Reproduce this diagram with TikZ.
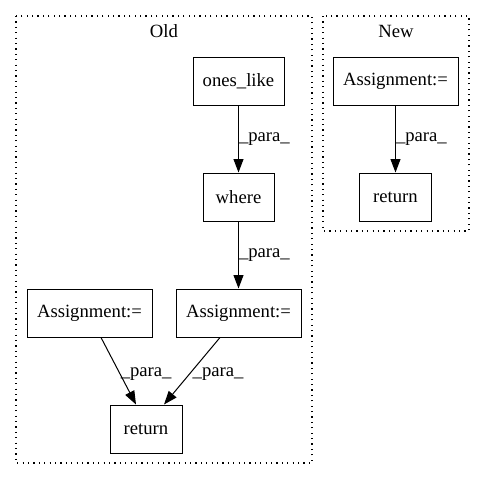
\documentclass[tikz,border=0pt]{standalone}
\usepackage{fontspec}
\setmainfont{Liberation Serif}
\usetikzlibrary{arrows.meta}
\begin{document}
\begin{tikzpicture}[x=1pt,y=-1pt,
  box/.style={draw,line width=1pt,minimum height=48pt,inner sep=0pt,font=\fontsize{18.67}{20}\selectfont},
  cluster/.style={draw,line width=1.2pt,dash pattern=on 1.2pt off 4.2pt},
  edge/.style={line width=1pt,-{Triangle[length=13.5pt,width=10pt]}},
  lbl/.style={font=\fontsize{18.67}{20}\selectfont,inner sep=0pt},
  title/.style={font=\fontsize{18.67}{20}\selectfont,inner sep=0pt}]
\useasboundingbox (0,0) rectangle (485,480);
% clusters
\draw[cluster] (16,16) rectangle (312,463);
\draw[cluster] (323,16) rectangle (469,231);
\node[title] (told) at (164,31) {Old};
\node[title] (tnew) at (396,31) {New};
% Old nodes
\node[box,minimum width=91pt] (ones) at (238.5,81) {ones\_like};
\node[box,minimum width=71pt] (where) at (238.5,197) {where};
\node[box,minimum width=125pt] (asr) at (238.5,313) {Assignment:=};
\node[box,minimum width=125pt] (asl) at (89.5,313) {Assignment:=};
\node[box,minimum width=72pt] (ret) at (146,429) {return};
% New nodes
\node[box,minimum width=125pt] (nas) at (395.5,81) {Assignment:=};
\node[box,minimum width=72pt] (nret) at (395.5,197) {return};
% edges
\draw[edge] (ones) -- (where) node[lbl,midway,right=0pt] {\_para\_};
\draw[edge] (where) -- (asr) node[lbl,midway,right=0pt] {\_para\_};
\draw[edge] (asl.south -| 101,0) -- (ret.north -| 136,0) node[lbl,pos=0.55,right=0pt] {\_para\_};
\draw[edge] (asr.south -| 220,0) -- (ret.north -| 164,0) node[lbl,pos=0.55,right=3pt] {\_para\_};
\draw[edge] (nas) -- (nret) node[lbl,midway,right=0pt] {\_para\_};
\end{tikzpicture}
\end{document}
